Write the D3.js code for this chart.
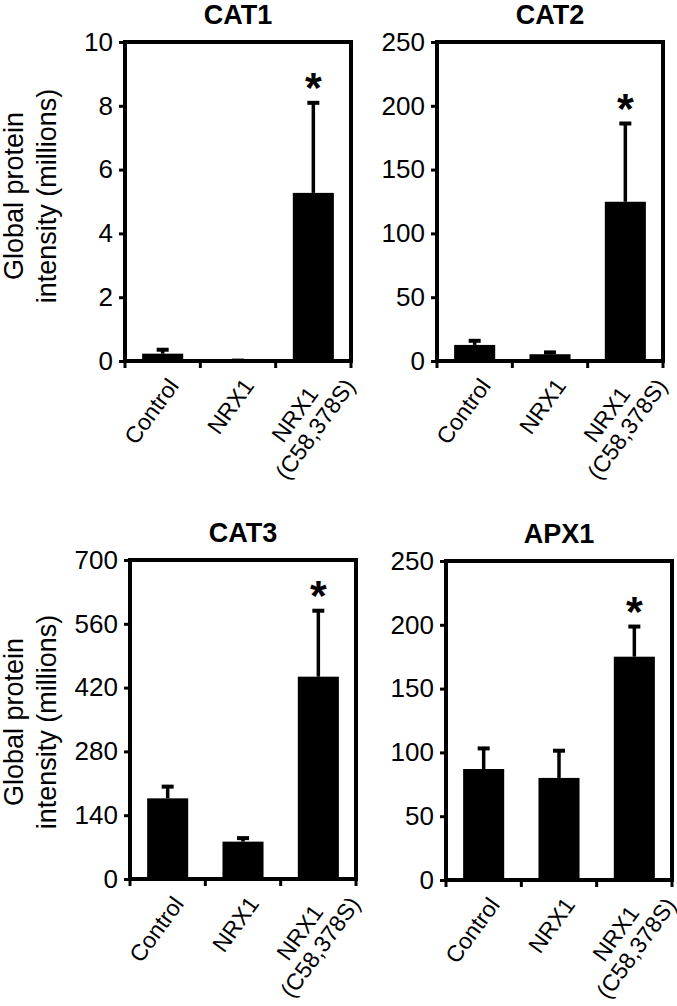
<!DOCTYPE html>
<html>
<head>
<meta charset="utf-8">
<script src="https://cdn.jsdelivr.net/npm/d3@7"></script>
<style>
  html, body { margin: 0; padding: 0; background: #fff; }
  svg { display: block; }
</style>
</head>
<body>
<script>
// ---------- data ----------
const categories = ["Control", "NRX1", "NRX1 (C58,378S)"];
const categoryLines = [["Control"], ["NRX1"], ["NRX1", "(C58,378S)"]];

const cat1Means  = [0.23, 0.04, 5.27];
const cat1Errors = [0.17, 0.02, 2.87];
const cat1Ticks  = [0, 2, 4, 6, 8, 10];

const cat2Means  = [12.6, 5.3, 124.8];
const cat2Errors = [4.4, 2.6, 62.5];
const cat2Ticks  = [0, 50, 100, 150, 200, 250];

const cat3Means  = [177, 82, 444];
const cat3Errors = [29, 11, 148];
const cat3Ticks  = [0, 140, 280, 420, 560, 700];

const apx1Means  = [87, 80, 175];
const apx1Errors = [17.3, 22.5, 24.8];
const apx1Ticks  = [0, 50, 100, 150, 200, 250];

const titles = ["CAT1", "CAT2", "CAT3", "APX1"];
const significant = [false, false, true]; // asterisk on third group
const yTitleLines = ["Global protein", "intensity (millions)"];

// ---------- layout ----------
const W = 677, H = 1006;
const FONT = "'Liberation Sans', Arial, Helvetica, sans-serif";
const PW = 226, PH = 319;
const ANG = -54, XFS = 23;

const panels = [
  { title: titles[0], means: cat1Means, errors: cat1Errors, ticks: cat1Ticks, left: 125, top: 42, yTitle: 154 },
  { title: titles[1], means: cat2Means, errors: cat2Errors, ticks: cat2Ticks, left: 437, top: 42, yTitle: null },
  { title: titles[2], means: cat3Means, errors: cat3Errors, ticks: cat3Ticks, left: 130, top: 560, yTitle: 162 },
  { title: titles[3], means: apx1Means, errors: apx1Errors, ticks: apx1Ticks, left: 446, top: 561, yTitle: null }
];

const svg = d3.select("body").append("svg")
  .attr("width", W).attr("height", H)
  .attr("font-family", FONT);

function drawPanel(p) {
  const g = svg.append("g").attr("transform", `translate(${p.left},${p.top})`);
  const x = d3.scaleBand().domain(categories).range([0, PW])
    .paddingInner(0.455).paddingOuter(0.2275);
  const y = d3.scaleLinear().domain([0, d3.max(p.ticks)]).range([PH, 0]);
  const rows = categories.map((c, i) => ({ c, i, m: p.means[i], e: p.errors[i] }));

  // bars
  g.selectAll("rect.bar").data(rows).join("rect")
    .attr("class", "bar")
    .attr("x", d => x(d.c))
    .attr("y", d => y(d.m))
    .attr("width", x.bandwidth())
    .attr("height", d => PH - y(d.m))
    .attr("fill", "#000");

  // error bars (upper only)
  const cx = d => x(d.c) + x.bandwidth() / 2;
  g.selectAll("line.err").data(rows).join("line")
    .attr("class", "err")
    .attr("x1", cx).attr("x2", cx)
    .attr("y1", d => y(d.m)).attr("y2", d => y(d.m + d.e))
    .attr("stroke", "#000").attr("stroke-width", 3.5);
  g.selectAll("line.cap").data(rows).join("line")
    .attr("class", "cap")
    .attr("x1", d => cx(d) - 6).attr("x2", d => cx(d) + 6)
    .attr("y1", d => y(d.m + d.e) + 1.5).attr("y2", d => y(d.m + d.e) + 1.5)
    .attr("stroke", "#000").attr("stroke-width", 4);

  // significance asterisk
  g.selectAll("text.star").data(rows.filter(d => significant[d.i])).join("text")
    .attr("class", "star")
    .attr("x", cx)
    .attr("y", d => y(d.m + d.e) + 1)
    .attr("text-anchor", "middle")
    .attr("font-size", 43).attr("font-weight", "bold")
    .text("*");

  // y axis
  const yg = g.append("g").call(
    d3.axisLeft(y).tickValues(p.ticks).tickSizeInner(6).tickSizeOuter(0).tickPadding(6)
      .tickFormat(d3.format("d"))
  );
  yg.select(".domain").remove();
  yg.selectAll(".tick line").attr("stroke", "#000").attr("stroke-width", 3);
  yg.selectAll(".tick text")
    .attr("font-size", 26).attr("font-family", FONT).attr("fill", "#000");

  // frame
  g.append("rect")
    .attr("x", 0).attr("y", 0).attr("width", PW).attr("height", PH)
    .attr("fill", "none").attr("stroke", "#000").attr("stroke-width", 4);

  // x ticks at category boundaries
  const gap = (x.step() - x.bandwidth()) / 2;
  const bounds = categories.map(c => x(c) - gap).concat([x(categories[categories.length - 1]) + x.bandwidth() + gap]);
  g.selectAll("line.xt").data(bounds).join("line")
    .attr("class", "xt")
    .attr("x1", d => d).attr("x2", d => d)
    .attr("y1", PH).attr("y2", PH + 7)
    .attr("stroke", "#000").attr("stroke-width", 3);

  // x labels (rotated)
  rows.forEach(d => {
    const lines = categoryLines[d.i];
    const lg = g.append("g")
      .attr("transform", `translate(${cx(d) + 17},${PH + 25}) rotate(${ANG})`);
    if (lines.length === 1) {
      lg.append("text").attr("text-anchor", "end").attr("font-size", XFS)
        .attr("fill", "#000").text(lines[0]);
    } else {
      const t2 = lg.append("text").attr("text-anchor", "middle").attr("font-size", XFS)
        .attr("fill", "#000").attr("y", 21).text(lines[1]);
      const L2 = t2.node().getComputedTextLength();
      const c = 15 - L2 / 2;
      t2.attr("x", c);
      lg.append("text").attr("text-anchor", "middle").attr("font-size", XFS)
        .attr("fill", "#000").attr("x", c).attr("y", -4).text(lines[0]);
    }
  });

  // title
  svg.append("text")
    .attr("x", p.left + PW / 2).attr("y", p.top - 18)
    .attr("text-anchor", "middle")
    .attr("font-size", 27).attr("font-weight", "bold")
    .attr("fill", "#000")
    .text(p.title);

  // y-axis title
  if (p.yTitle !== null) {
    const cy = p.top + p.yTitle;
    [23, 56].forEach((bx, k) => {
      svg.append("text")
        .attr("transform", `translate(${bx},${cy}) rotate(-90)`)
        .attr("text-anchor", "middle")
        .attr("font-size", 27).attr("fill", "#000")
        .text(yTitleLines[k]);
    });
  }
}

panels.forEach(drawPanel);
</script>
</body>
</html>
